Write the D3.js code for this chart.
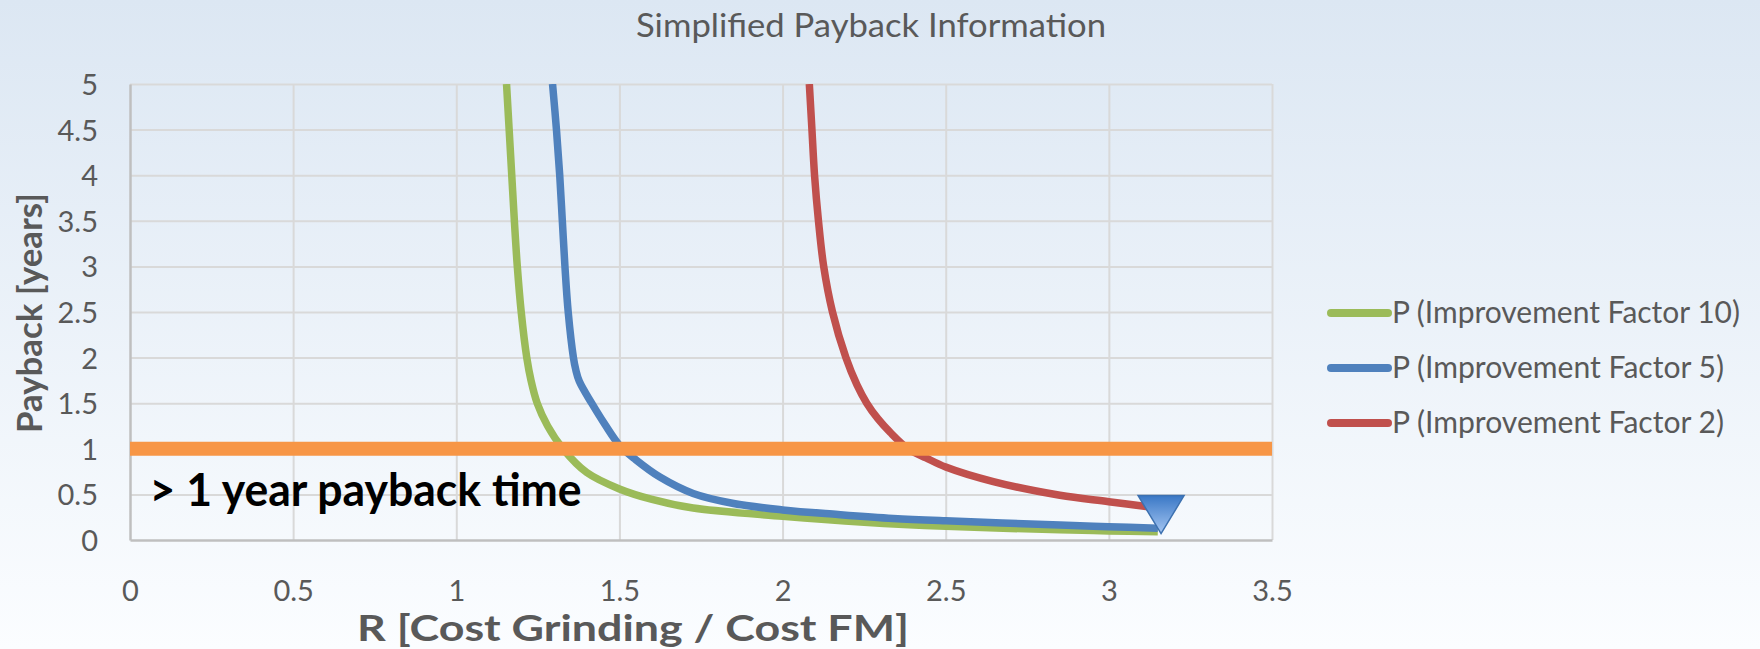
<!DOCTYPE html>
<html>
<head>
<meta charset="utf-8">
<script src="https://cdn.jsdelivr.net/npm/d3@7"></script>
<style>
  body { margin: 0; }
  svg { display: block; font-family: Lato, "Open Sans", sans-serif; }
</style>
</head>
<body>
<script>
// chart size and plot area
var w = 1760;
var h = 649;
var plot = { left: 130, right: 1272, top: 84, bottom: 540 };

// data
var xTicks = [0, 0.5, 1, 1.5, 2, 2.5, 3, 3.5];
var yTicks = [0, 0.5, 1, 1.5, 2, 2.5, 3, 3.5, 4, 4.5, 5];

var seriesNames = ["P (Improvement Factor 10)", "P (Improvement Factor 5)", "P (Improvement Factor 2)"];

var rFactor10 = [1.154, 1.162, 1.170, 1.178, 1.187, 1.199, 1.216, 1.229, 1.248, 1.28, 1.327, 1.40, 1.50, 1.60, 1.726, 2.0, 2.25, 2.5, 2.85, 3.0, 3.15];
var pFactor10 = [5, 4.5, 4, 3.5, 3, 2.5, 2, 1.75, 1.5, 1.25, 1.0, 0.74, 0.56, 0.445, 0.35, 0.26, 0.195, 0.15, 0.112, 0.10, 0.09];

var rFactor5 = [1.295, 1.307, 1.317, 1.325, 1.333, 1.343, 1.359, 1.366, 1.377, 1.415, 1.455, 1.502, 1.55, 1.624, 1.726, 1.85, 2.0, 2.17, 2.339, 2.5, 2.85, 3.0, 3.15];
var pFactor5 = [5, 4.5, 4, 3.5, 3, 2.5, 2, 1.87, 1.74, 1.5, 1.27, 1.03, 0.88, 0.69, 0.51, 0.40, 0.33, 0.28, 0.237, 0.21, 0.164, 0.146, 0.13];

var rFactor2 = [2.082, 2.090, 2.098, 2.110, 2.126, 2.153, 2.194, 2.228, 2.258, 2.292, 2.33, 2.385, 2.44, 2.5, 2.646, 2.85, 3.0, 3.15];
var pFactor2 = [5, 4.5, 4, 3.5, 3, 2.5, 2, 1.7, 1.5, 1.33, 1.18, 1.0, 0.9, 0.8, 0.64, 0.49, 0.42, 0.35];

var thresholdP = 1;          // the orange "1 year" line
var markerR = 3.16;          // the blue triangle
var markerP = 0.07;
var noteR = 0.06;            // "> 1 year payback time"
var noteP = 0.37;

var colors = ["#9BBB59", "#4F81BD", "#C0504D"];

function zip(xs, ys) {
  return xs.map(function(x, i) { return [x, ys[i]]; });
}
var series = [zip(rFactor10, pFactor10), zip(rFactor5, pFactor5), zip(rFactor2, pFactor2)];

// scales
var xScale = d3.scaleLinear()
               .domain([0, 3.5])
               .range([plot.left, plot.right]);
var yScale = d3.scaleLinear()
               .domain([0, 5])
               .range([plot.bottom, plot.top]);

var svg = d3.select("body")
            .append("svg")
            .attr("width", w)
            .attr("height", h);

var defs = svg.append("defs");

var bg = defs.append("linearGradient")
             .attr("id", "bg")
             .attr("x1", 0).attr("y1", 0).attr("x2", 0).attr("y2", 1);
bg.append("stop").attr("offset", "0%").attr("stop-color", "#dce7f3");
bg.append("stop").attr("offset", "100%").attr("stop-color", "#fbfdff");

var tri = defs.append("linearGradient")
              .attr("id", "tri")
              .attr("x1", 0).attr("y1", 0).attr("x2", 0).attr("y2", 1);
tri.append("stop").attr("offset", "0%").attr("stop-color", "#3a78c6");
tri.append("stop").attr("offset", "100%").attr("stop-color", "#a5c6f2");

defs.append("clipPath")
    .attr("id", "clip")
    .append("rect")
    .attr("x", plot.left)
    .attr("y", plot.top)
    .attr("width", plot.right - plot.left)
    .attr("height", plot.bottom - plot.top);

svg.append("rect")
   .attr("width", w)
   .attr("height", h)
   .attr("fill", "url(#bg)");

// stretch / squeeze texts to the width they have in the picture
function fit(sel, width) {
  sel.attr("textLength", width).attr("lengthAdjust", "spacingAndGlyphs");
}

// gridlines
var xGrid = d3.axisBottom(xScale)
              .tickValues(xTicks.slice(1))
              .tickSize(-(plot.bottom - plot.top))
              .tickFormat("");
svg.append("g")
   .attr("class", "grid")
   .attr("transform", "translate(0," + plot.bottom + ")")
   .call(xGrid);

var yGrid = d3.axisLeft(yScale)
              .tickValues(yTicks.slice(1))
              .tickSize(-(plot.right - plot.left))
              .tickFormat("");
svg.append("g")
   .attr("class", "grid")
   .attr("transform", "translate(" + plot.left + ",0)")
   .call(yGrid);

svg.selectAll(".grid .domain").remove();
svg.selectAll(".grid line")
   .attr("stroke", "#d9d9d9")
   .attr("stroke-width", 2);

// axes
var xAxis = d3.axisBottom(xScale)
              .tickValues(xTicks)
              .tickSize(0)
              .tickPadding(40)
              .tickFormat(d3.format(""));
var yAxis = d3.axisLeft(yScale)
              .tickValues(yTicks)
              .tickSize(0)
              .tickPadding(32)
              .tickFormat(d3.format(""));

var gx = svg.append("g")
            .attr("transform", "translate(0," + plot.bottom + ")")
            .call(xAxis);
var gy = svg.append("g")
            .attr("transform", "translate(" + plot.left + ",0)")
            .call(yAxis);

[gx, gy].forEach(function(g) {
  g.select(".domain").attr("stroke", "#bfbfbf").attr("stroke-width", 2.5);
  g.selectAll("text")
   .attr("font-family", "Lato, sans-serif")
   .attr("font-size", 29)
   .attr("fill", "#595959");
});
gy.selectAll("text").attr("dy", "0.36em");

// curves (smoothed like the spreadsheet lines)
var line = d3.line()
             .x(function(d) { return xScale(d[0]); })
             .y(function(d) { return yScale(d[1]); })
             .curve(d3.curveCatmullRom.alpha(0.5));

svg.append("g")
   .attr("clip-path", "url(#clip)")
   .selectAll("path")
   .data(series)
   .enter()
   .append("path")
   .attr("d", line)
   .attr("fill", "none")
   .attr("stroke", function(d, i) { return colors[i]; })
   .attr("stroke-width", 7.5)
   .attr("stroke-linejoin", "round");

// 1 year line
svg.append("line")
   .attr("x1", xScale(0))
   .attr("x2", xScale(3.5))
   .attr("y1", yScale(thresholdP))
   .attr("y2", yScale(thresholdP))
   .attr("stroke", "#F79646")
   .attr("stroke-width", 14);

svg.append("text")
   .attr("x", xScale(noteR))
   .attr("y", yScale(noteP))
   .attr("font-family", "Lato, sans-serif")
   .attr("font-weight", "bold")
   .attr("font-size", 46)
   .attr("fill", "#000")
   .text("> 1 year payback time")
   .call(fit, 432);

// triangle marker
var mx = xScale(markerR);
var my = yScale(markerP);
svg.append("path")
   .attr("d", "M" + (mx - 23) + "," + (my - 38) + "L" + (mx + 23) + "," + (my - 38) + "L" + mx + "," + my + "Z")
   .attr("fill", "url(#tri)")
   .attr("stroke", "#3d71b0")
   .attr("stroke-width", 1.5);

// title
svg.append("text")
   .attr("x", 871)
   .attr("y", 37)
   .attr("text-anchor", "middle")
   .attr("font-size", 32)
   .attr("fill", "#595959")
   .text("Simplified Payback Information")
   .call(fit, 470);

// axis titles
svg.append("text")
   .attr("x", 633)
   .attr("y", 641)
   .attr("text-anchor", "middle")
   .attr("font-size", 37)
   .attr("font-weight", "bold")
   .attr("fill", "#595959")
   .text("R [Cost Grinding / Cost FM]")
   .call(fit, 552);

svg.append("text")
   .attr("transform", "translate(42,313) rotate(-90)")
   .attr("text-anchor", "middle")
   .attr("font-size", 34)
   .attr("font-weight", "bold")
   .attr("fill", "#595959")
   .text("Payback [years]")
   .call(fit, 240);

// legend
var legend = svg.selectAll(".legend")
                .data(seriesNames)
                .enter()
                .append("g")
                .attr("class", "legend")
                .attr("transform", function(d, i) { return "translate(1331," + (313 + i * 55) + ")"; });

legend.append("line")
      .attr("x1", 0)
      .attr("x2", 57)
      .attr("stroke", function(d, i) { return colors[i]; })
      .attr("stroke-width", 8)
      .attr("stroke-linecap", "round");

legend.append("text")
      .attr("x", 61)
      .attr("y", 10)
      .attr("font-size", 30)
      .attr("fill", "#595959")
      .text(function(d) { return d; })
      .each(function(d, i) {
        d3.select(this).call(fit, [348, 332, 332][i]);
      });
</script>
</body>
</html>
